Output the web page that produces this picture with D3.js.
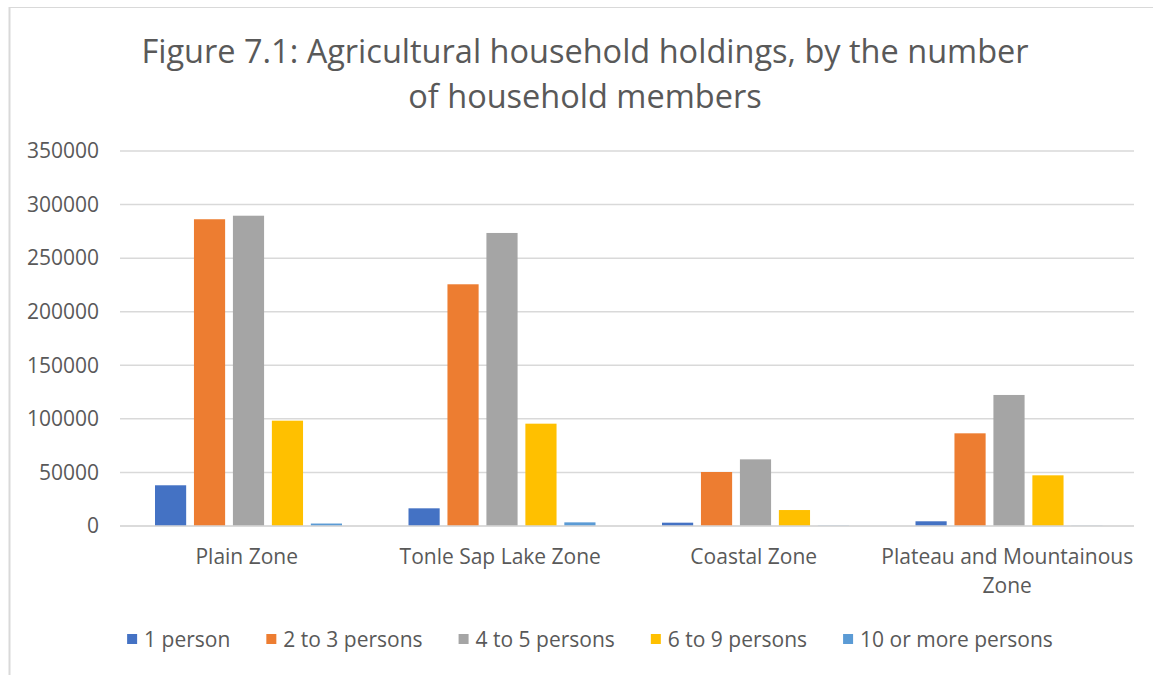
<!DOCTYPE html>
<html>
<head>
<meta charset="utf-8">
<script src="https://cdn.jsdelivr.net/npm/d3@7"></script>
<style>
  html, body { margin: 0; padding: 0; background: #ffffff; }
  svg { display: block; font-family: "Open Sans", "Noto Sans", sans-serif; }
</style>
</head>
<body>
<svg id="chart" width="1153" height="675"></svg>
<script>
// Agricultural household holdings by zone and household size
const zones = ["Plain Zone", "Tonle Sap Lake Zone", "Coastal Zone", "Plateau and Mountainous Zone"];
const seriesNames = ["1 person", "2 to 3 persons", "4 to 5 persons", "6 to 9 persons", "10 or more persons"];
const seriesColors = ["#4472C4", "#ED7D31", "#A5A5A5", "#FFC000", "#5B9BD5"];
const onePerson      = [38000, 16500, 3100, 4400];
const twoToThree     = [286300, 225600, 50400, 86500];
const fourToFive     = [289600, 273500, 62200, 122300];
const sixToNine      = [98300, 95500, 14900, 47300];
const tenOrMore      = [2300, 3400, 300, 200];
const yTicks = [0, 50000, 100000, 150000, 200000, 250000, 300000, 350000];
const titleLines = ["Figure 7.1: Agricultural household holdings, by the number", "of household members"];

const seriesValues = [onePerson, twoToThree, fourToFive, sixToNine, tenOrMore];

const svg = d3.select("#chart");
const W = 1153, H = 675;
const plot = { left: 120, right: 1134, top: 151, bottom: 526 };
const textColor = "#595959";
const gridColor = "#d9d9d9";
const labelSize = 21;

// chart frame
svg.append("line").attr("x1", 9).attr("x2", W).attr("y1", 7.5).attr("y2", 7.5)
  .attr("stroke", gridColor).attr("stroke-width", 1);
svg.append("line").attr("x1", 9.5).attr("x2", 9.5).attr("y1", 7).attr("y2", H)
  .attr("stroke", gridColor).attr("stroke-width", 2);

// title
const title = svg.append("text")
  .attr("x", 585).attr("text-anchor", "middle")
  .attr("fill", textColor).attr("font-size", 32.5);
title.selectAll("tspan").data(titleLines).join("tspan")
  .attr("x", 585).attr("y", (d, i) => 63 + i * 45).text(d => d);

// scales
const x0 = d3.scaleBand().domain(zones).range([plot.left, plot.right]).padding(0);
const x1 = d3.scaleBand().domain(seriesNames)
  .range([35, x0.bandwidth() - 31.5]).paddingInner(0.2).paddingOuter(0);
const y = d3.scaleLinear().domain([0, 350000]).range([plot.bottom, plot.top]);

// gridlines
svg.append("g").selectAll("line").data(yTicks).join("line")
  .attr("x1", plot.left).attr("x2", plot.right)
  .attr("y1", d => y(d)).attr("y2", d => y(d))
  .attr("stroke", gridColor).attr("stroke-width", 1.5);

// y axis labels
const yAxis = d3.axisLeft(y).tickValues(yTicks).tickFormat(d3.format("d")).tickSize(0).tickPadding(21);
const yg = svg.append("g").attr("transform", `translate(${plot.left},0)`).call(yAxis);
yg.select(".domain").remove();
yg.selectAll("text").attr("fill", textColor).attr("font-size", labelSize)
  .attr("font-family", "'Open Sans', sans-serif");

// bars
const groups = svg.append("g").selectAll("g").data(zones).join("g")
  .attr("transform", d => `translate(${x0(d)},0)`);
groups.selectAll("rect")
  .data((z, zi) => seriesNames.map((s, si) => ({ s, si, v: seriesValues[si][zi] })))
  .join("rect")
  .attr("x", d => x1(d.s))
  .attr("width", x1.bandwidth())
  .attr("y", d => y(d.v))
  .attr("height", d => y(0) - y(d.v))
  .attr("fill", d => seriesColors[d.si]);

// baseline
svg.append("line").attr("x1", plot.left).attr("x2", plot.right)
  .attr("y1", y(0)).attr("y2", y(0)).attr("stroke", gridColor).attr("stroke-width", 1.5);

// category labels, wrapped to the band width
const catG = svg.append("g");
zones.forEach(z => {
  const t = catG.append("text").attr("text-anchor", "middle").attr("fill", textColor)
    .attr("font-size", labelSize);
  const cx = x0(z) + x0.bandwidth() / 2;
  const words = z.split(" ");
  let lines = [], cur = [];
  words.forEach(w => {
    cur.push(w);
    t.text(cur.join(" "));
    if (t.node().getComputedTextLength() > x0.bandwidth() && cur.length > 1) {
      cur.pop();
      lines.push(cur.join(" "));
      cur = [w];
    }
  });
  lines.push(cur.join(" "));
  t.text(null);
  lines.forEach((ln, i) => {
    t.append("tspan").attr("x", cx).attr("y", 564 + i * 29).text(ln);
  });
});

// legend
const legend = svg.append("g");
const items = legend.selectAll("g").data(seriesNames).join("g");
items.append("rect").attr("width", 10).attr("height", 10).attr("y", 634)
  .attr("fill", (d, i) => seriesColors[i]);
items.append("text").attr("x", 17).attr("y", 647).attr("fill", textColor)
  .attr("font-size", labelSize).text(d => d);
let lx = 0;
const offsets = [];
items.each(function() {
  const w = d3.select(this).select("text").node().getComputedTextLength();
  offsets.push(lx);
  lx += 17 + w + 36;
});
const totalW = lx - 36;
const startX = 590 - totalW / 2;
items.attr("transform", (d, i) => `translate(${startX + offsets[i]},0)`);
</script>
</body>
</html>
